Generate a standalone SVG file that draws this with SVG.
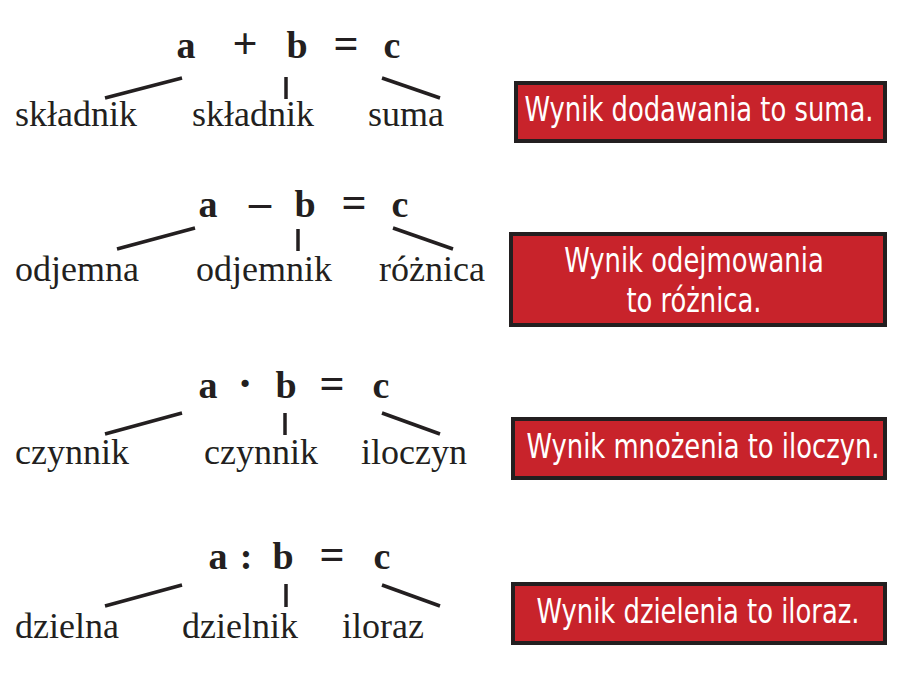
<svg xmlns="http://www.w3.org/2000/svg" width="905" height="686" viewBox="0 0 905 686">
<style>
.eq{font-family:"Liberation Serif","Times New Roman",serif;font-weight:bold;font-size:38px;fill:#231f20;text-anchor:middle}
.op{font-size:44px}
.lb{font-family:"Liberation Serif","Times New Roman",serif;font-size:36px;fill:#231f20}
.ln{stroke:#231f20;stroke-width:3.5;fill:none}
.box{fill:#c8232b;stroke:#231f20;stroke-width:4}
.bt{font-family:"DejaVu Sans Condensed","Liberation Sans Narrow","Liberation Sans",sans-serif;font-stretch:condensed;font-size:33px;fill:#ffffff;text-anchor:middle}
</style>
<rect width="905" height="686" fill="#ffffff"/>

<g id="row1">
  <text class="eq" x="186" y="58">a</text>
  <text class="eq op" x="245" y="58">+</text>
  <text class="eq" x="297" y="58">b</text>
  <text class="eq op" x="346" y="58">=</text>
  <text class="eq" x="392" y="58">c</text>
  <text class="lb" x="15" y="126">składnik</text>
  <text class="lb" x="192" y="126">składnik</text>
  <text class="lb" x="368" y="126">suma</text>
</g>
<g id="box1">
  <rect class="box" x="516" y="83" width="369" height="58"/>
  <text class="bt" transform="translate(699,121) scale(0.87,1)">Wynik dodawania to suma.</text>
</g>

<g id="row2">
  <text class="eq" x="208" y="217">a</text>
  <text class="eq op" x="260" y="217">–</text>
  <text class="eq" x="305" y="217">b</text>
  <text class="eq op" x="354" y="217">=</text>
  <text class="eq" x="400" y="217">c</text>
  <text class="lb" x="15" y="281">odjemna</text>
  <text class="lb" x="196" y="281">odjemnik</text>
  <text class="lb" x="379" y="281">różnica</text>
</g>
<g id="box2">
  <rect class="box" x="511" y="234" width="374" height="91"/>
  <text class="bt" transform="translate(694,272) scale(0.87,1)">Wynik odejmowania</text>
  <text class="bt" transform="translate(694,312) scale(0.87,1)">to różnica.</text>
</g>

<g id="row3">
  <text class="eq" x="208" y="398">a</text>
  <text class="eq op" x="245" y="398">·</text>
  <text class="eq" x="286" y="398">b</text>
  <text class="eq op" x="332" y="398">=</text>
  <text class="eq" x="381" y="398">c</text>
  <text class="lb" x="15" y="464">czynnik</text>
  <text class="lb" x="204" y="464">czynnik</text>
  <text class="lb" x="361" y="464">iloczyn</text>
</g>
<g id="box3">
  <rect class="box" x="513" y="419" width="372" height="59"/>
  <text class="bt" transform="translate(703,458) scale(0.87,1)">Wynik mnożenia to iloczyn.</text>
</g>

<g id="row4">
  <text class="eq" x="218" y="569">a</text>
  <text class="eq" x="246" y="569">:</text>
  <text class="eq" x="283" y="569">b</text>
  <text class="eq op" x="332" y="569">=</text>
  <text class="eq" x="382" y="569">c</text>
  <text class="lb" x="15" y="638">dzielna</text>
  <text class="lb" x="182" y="638">dzielnik</text>
  <text class="lb" x="342" y="638">iloraz</text>
</g>
<g id="box4">
  <rect class="box" x="513" y="584" width="372" height="59"/>
  <text class="bt" transform="translate(698,623) scale(0.87,1)">Wynik dzielenia to iloraz.</text>
</g>

<g id="connectors">
  <line class="ln" x1="105" y1="98" x2="182" y2="78"/>
  <line class="ln" x1="286" y1="77" x2="286" y2="99"/>
  <line class="ln" x1="382" y1="78" x2="440" y2="98"/>
  <line class="ln" x1="117" y1="249" x2="195" y2="228"/>
  <line class="ln" x1="298" y1="229" x2="298" y2="251"/>
  <line class="ln" x1="393" y1="228" x2="453" y2="249"/>
  <line class="ln" x1="105" y1="434" x2="182" y2="413"/>
  <line class="ln" x1="285" y1="413" x2="285" y2="435"/>
  <line class="ln" x1="382" y1="413" x2="440" y2="434"/>
  <line class="ln" x1="105" y1="606" x2="182" y2="585"/>
  <line class="ln" x1="286" y1="584" x2="286" y2="607"/>
  <line class="ln" x1="382" y1="585" x2="440" y2="606"/>
</g>
</svg>
